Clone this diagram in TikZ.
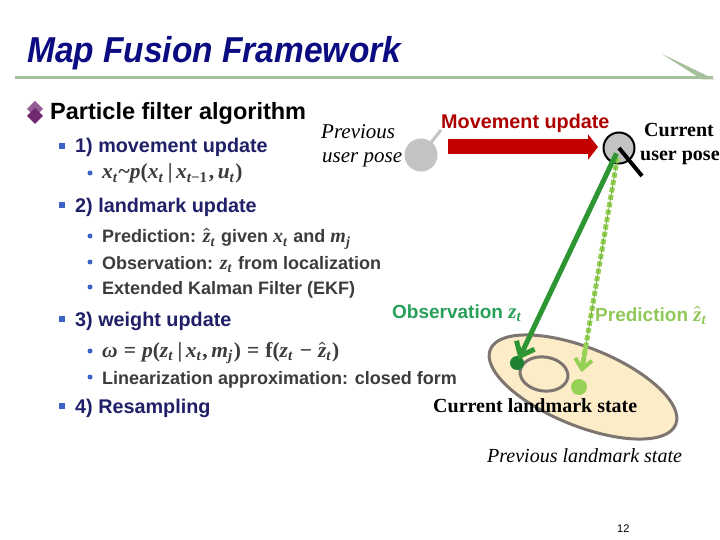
\documentclass[tikz,border=0pt]{standalone}
\usepackage{fontspec}
\usepackage{amsmath}
\setmainfont{Liberation Sans}
\newfontfamily\tsans{Liberation Sans}[FakeStretch=0.93]
\newfontfamily\tnr{Liberation Serif}
\usetikzlibrary{arrows.meta,calc}
\definecolor{titleblue}{RGB}{12,12,130}
\definecolor{navyhead}{RGB}{32,32,105}
\definecolor{bodygray}{RGB}{60,60,60}
\definecolor{bulblue}{RGB}{60,100,200}
\definecolor{purp}{RGB}{112,40,112}
\definecolor{rulegreen}{RGB}{165,192,155}
\definecolor{mvred}{RGB}{175,0,0}
\definecolor{mvarrow}{RGB}{195,0,0}
\definecolor{posegray}{RGB}{195,195,195}
\definecolor{obsgreen}{RGB}{45,150,50}
\definecolor{obstext}{RGB}{40,160,90}
\definecolor{obsdotc}{RGB}{30,130,50}
\definecolor{predgreen}{RGB}{150,208,85}
\definecolor{predline}{RGB}{110,175,60}
\definecolor{predtext}{RGB}{145,200,90}
\definecolor{cream}{RGB}{253,236,200}
\definecolor{ellgray}{RGB}{125,118,112}
% math-like bold serif italic set as text
\newcommand{\mi}[1]{{\tnr\bfseries\itshape #1}}
\newcommand{\mup}[1]{{\tnr\bfseries #1}}
\newcommand{\msb}[1]{\textsubscript{\tnr\bfseries\itshape #1}\hspace{0.05em}}
\newcommand{\zhat}{\ensuremath{\boldsymbol{\hat{\mbox{\mi{z}}}}}}
\newcommand{\mgap}{\hspace{0.28em}}
\tikzset{
  txt/.style={inner sep=0pt, anchor=base west},
  lvltwo/.style={txt, font=\bfseries\fontsize{19.8}{23}\selectfont, text=navyhead},
  lvlthree/.style={txt, font=\bfseries\fontsize{18}{21}\selectfont, text=bodygray},
  mathline/.style={txt, font=\fontsize{21.5}{24}\selectfont, text=bodygray},
  sqbullet/.style={fill=bulblue, minimum size=6pt, inner sep=0pt},
  dotbullet/.style={circle, fill=bulblue, minimum size=5pt, inner sep=0pt},
  prevtxt/.style={txt, font=\tnr\itshape\fontsize{21}{24}\selectfont},
  curtxt/.style={txt, font=\tnr\bfseries\fontsize{20}{24}\selectfont},
  posecirc/.style={circle, fill=posegray, minimum size=33pt, inner sep=0pt},
  landdot/.style={circle, inner sep=0pt},
}
\begin{document}
\begin{tikzpicture}[x=1pt,y=-1pt]
\useasboundingbox (0,0) rectangle (720,540);
\fill[white] (0,0) rectangle (720,540);
% title
\node[txt, font=\tsans\bfseries\itshape\fontsize{36}{40}\selectfont, text=titleblue] (title) at (27,63) {Map Fusion Framework};
\coordinate (ruleL) at (15,78);
\coordinate (ruleR) at (713,78);
\draw[rulegreen, line width=3pt] (ruleL) -- (ruleR);
\fill[rulegreen] (662,54) -- (715,79.5) -- (702,79.5) -- cycle;
% level 1
\fill[purp!75] (35,101) -- (43,109) -- (35,117) -- (27,109) -- cycle;
\fill[purp] (35,108) -- (43,116) -- (35,124) -- (27,116) -- cycle;
\node[txt, font=\bfseries\fontsize{23.5}{26}\selectfont] (pf) at (50,120) {Particle filter algorithm};
% level 2 / 3
\node[sqbullet] (b1) at (62,146) {};
\node[lvltwo] (h1) at (75,153) {1) movement update};
\node[dotbullet] (d1) at (90,173) {};
\node[mathline] (m1) at (102,179) {\mi{x}\msb{t}\mup{\textasciitilde}\mi{p}\mup{(}\mi{x}\msb{t}\mup{\,|\,}\mi{x}\msb{t\upshape−1}\mup{,\,}\mi{u}\msb{t}\mup{)}};
\node[sqbullet] (b2) at (62,205) {};
\node[lvltwo] (h2) at (75,212) {2) landmark update};
\node[dotbullet] (d2) at (90,236) {};
\node[lvlthree] (t21) at (102,243) {Prediction: {\fontsize{20}{22}\selectfont\zhat\msb{t}} given {\fontsize{20}{22}\selectfont\mi{x}\msb{t}} and {\fontsize{20}{22}\selectfont\mi{m}\msb{j}}};
\node[dotbullet] (d3) at (90,262) {};
\node[lvlthree] (t22) at (102,269) {Observation: {\fontsize{20}{22}\selectfont\mi{z}\msb{t}} from localization};
\node[dotbullet] (d4) at (90,287) {};
\node[lvlthree] (t23) at (102,294) {Extended Kalman Filter (EKF)};
\node[sqbullet] (b3) at (62,319) {};
\node[lvltwo] (h3) at (75,326) {3) weight update};
\node[dotbullet] (d5) at (90,351) {};
\node[mathline] (m2) at (102,357) {\mi{ω}\mgap\mup{=}\mgap\mi{p}\mup{(}\mi{z}\msb{t}\mup{\,|\,}\mi{x}\msb{t}\mup{,\,}\mi{m}\msb{j}\mup{)}\mgap\mup{=}\mgap\mup{f(}\mi{z}\msb{t}\mgap\mup{−}\mgap\zhat\msb{t}\mup{)}};
\node[dotbullet] (d6) at (90,377) {};
\node[lvlthree] (t31) at (102,384) {Linearization approximation: closed form};
\node[sqbullet] (b4) at (62,406) {};
\node[lvltwo] (h4) at (75,413) {4) Resampling};
% right side: big ellipse
\draw[ellgray, fill=cream, line width=3pt, rotate around={-22:(583,387)}] (583,387) ellipse [x radius=100pt, y radius=39pt];
\draw[ellgray, fill=cream, line width=3pt, rotate around={-8:(544,374)}] (544,374) ellipse [x radius=24pt, y radius=17pt];
% poses
\coordinate (prevheadend) at (441,130);
\draw[posegray, line width=3pt] (421,155) -- (prevheadend);
\node[posecirc] (prevpose) at (421,155) {};
\node[prevtxt] (prevl1) at (321,139) {Previous};
\node[prevtxt] (prevl2) at (322,163) {user pose};
\node[posecirc, draw=black, line width=2pt, minimum size=31pt] (curpose) at (619,148) {};
\node[curtxt] (curl1) at (644,137) {Current};
\node[curtxt] (curl2) at (640,161) {user pose};
% movement arrow
\node[txt, font=\bfseries\fontsize{19.8}{23}\selectfont, text=mvred] (mvlbl) at (441,129) {Movement update};
\coordinate (mvstart) at (448,147);
\coordinate (mvend) at (598,147);
\draw[mvarrow, line width=15pt, -{Triangle[length=10pt,width=25pt]}] (mvstart) -- (mvend);
% landmark dots
\node[landdot, fill=obsdotc, minimum size=14pt] (obsdot) at (517,363) {};
\node[landdot, fill=predgreen, minimum size=16pt] (preddot) at (579,387) {};
% observation / prediction arrows
\draw[predgreen, line width=5pt, dash pattern=on 5pt off 2.5pt, shorten <=10pt, shorten >=22pt] (curpose.center) -- (preddot.center);
\draw[predline, line width=0.8pt, shorten <=10pt, shorten >=20pt] (curpose.center) -- (preddot.center);
\draw[predgreen, line width=4pt, shorten <=200pt, shorten >=15pt, -{Straight Barb[length=10pt,width=17pt,line width=4pt]}] (curpose.center) -- (preddot.center);
\draw[obsgreen, line width=5pt, shorten <=6pt, shorten >=4pt, -{Straight Barb[length=12pt,width=20pt,line width=5pt]}] (curpose.center) -- (obsdot.center);
\coordinate (curheadend) at (642,176);
\draw[black, line width=4pt] (curpose.center) -- (curheadend);
% labels
\node[txt, font=\bfseries\fontsize{19}{22}\selectfont, text=obstext] (obslbl) at (392,318) {Observation {\fontsize{21}{22}\selectfont\mi{z}\msb{t}}};
\node[txt, font=\bfseries\fontsize{19}{22}\selectfont, text=predtext] (predlbl) at (595,321) {Prediction {\fontsize{21}{22}\selectfont\zhat\msb{t}}};
\node[curtxt] (curland) at (433,412) {Current landmark state};
\node[txt, font=\tnr\itshape\fontsize{20}{24}\selectfont] (prevland) at (487,462) {Previous landmark state};
\node[txt, font=\fontsize{11}{13}\selectfont] (pagenum) at (617,532) {12};
\end{tikzpicture}
\end{document}
